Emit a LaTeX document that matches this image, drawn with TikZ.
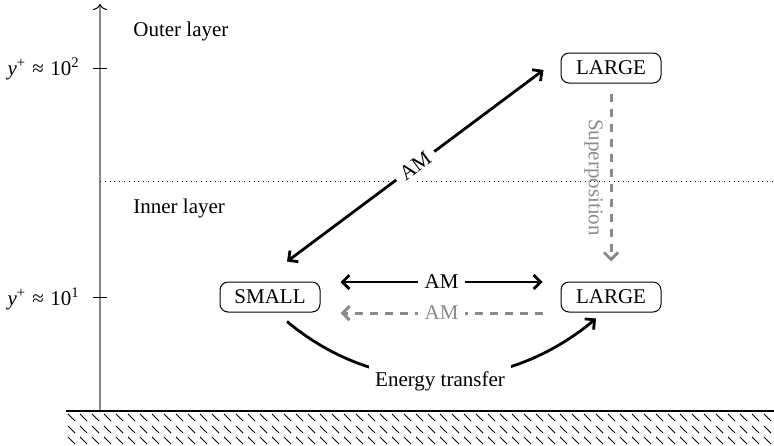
\documentclass[tikz,border=0pt]{standalone}
\usepackage{fontspec}
\setmainfont{Liberation Serif}
\usetikzlibrary{arrows.meta,calc}
\definecolor{midgray}{HTML}{8A8A8A}
\begin{document}
\begin{tikzpicture}[x=0.5pt,y=-0.5pt,
  font=\fontsize{10.5}{12}\selectfont,
  >={Straight Barb[length=3.5pt,width=7pt]},
  box/.style={draw, rounded corners=4pt, line width=0.5pt, minimum width=50pt, minimum height=15pt, inner sep=2pt},
  blackarrow/.style={line width=1.4pt},
  graydash/.style={draw=midgray, line width=1.5pt, dash pattern=on 4pt off 3.5pt},
  plain/.style={inner sep=0pt},
  lbl/.style={fill=white}]
\useasboundingbox (0,0) rectangle (774,445);

% axis
\coordinate (axb) at (100,411);
\coordinate (axt) at (100,4);
\draw[midgray, line width=1pt, -{To[black,line width=0.5pt,length=3pt,width=7pt]}] (axb) -- (axt);
\coordinate (t2) at (100,68);
\coordinate (t1) at (100,297);
\draw[line width=0.5pt] ([xshift=-3.5pt]t2) -- ([xshift=3.5pt]t2);
\draw[line width=0.5pt] ([xshift=-3.5pt]t1) -- ([xshift=3.5pt]t1);
\node[plain, anchor=base east] (l2) at (80,75) {\textit{y}\textsuperscript{+}\hspace{0.3em}≈\hspace{0.3em}10\textsuperscript{2}};
\node[plain, anchor=base east] (l1) at (80,305) {\textit{y}\textsuperscript{+}\hspace{0.3em}≈\hspace{0.3em}10\textsuperscript{1}};

% layers
\node[plain, anchor=base west] (outer) at (133,36) {Outer layer};
\node[plain, anchor=base west] (inner) at (133,213) {Inner layer};
\coordinate (d1) at (100,181);
\coordinate (d2) at (774,181);
\draw[dotted, line width=0.4pt] (d1) -- (d2);

% ground
\coordinate (g1) at (66,411);
\coordinate (g2) at (774,411);
\draw[line width=0.8pt] (g1) -- (g2);
\foreach \r in {414,426,437} {
  \foreach \i in {0,...,59} {
    \draw[line width=0.45pt] ({68+12*\i},\r) -- ++(7,7);
  }
}

% nodes
\node[box] (Lt) at (611,68) {LARGE};
\node[box] (S) at (270,297) {SMALL};
\node[box] (Lb) at (611,297) {LARGE};

% diagonal AM
\coordinate (dA) at ($(S.north)+(17,-20)$);
\coordinate (dB) at ($(Lt.west)+(-17,2)$);
\draw[blackarrow,<->] (dA) -- node[sloped, lbl]{AM} (dB);

% horizontal AM
\coordinate (hA) at ($(S.east)+(20,-15)$);
\coordinate (hB) at ($(Lb.west)+(-18,-15)$);
\draw[blackarrow,<->] (hA) -- node[lbl]{AM} (hB);

% gray AM
\coordinate (gA) at ($(Lb.west)+(-18,16)$);
\coordinate (gB) at ($(S.east)+(20,16)$);
\draw[graydash,->] (gA) -- node[lbl, text=midgray]{AM} (gB);

% superposition
\coordinate (sA) at ($(Lt.south)+(0,10)$);
\coordinate (sB) at ($(Lb.north)+(0,-20)$);
\draw[graydash,->] (sA) -- node[midway, rotate=-90, anchor=north, text=midgray]{Superposition} (sB);

% energy transfer
\coordinate (e1) at ($(S.south)+(17,9)$);
\coordinate (e2) at ($(Lb.south)+(-15,6)$);
\draw[blackarrow,->] (e1) .. controls +(92,77) and +(-92,77) .. (e2);
\node[lbl] (et) at (440,381) {Energy transfer};
\end{tikzpicture}
\end{document}
